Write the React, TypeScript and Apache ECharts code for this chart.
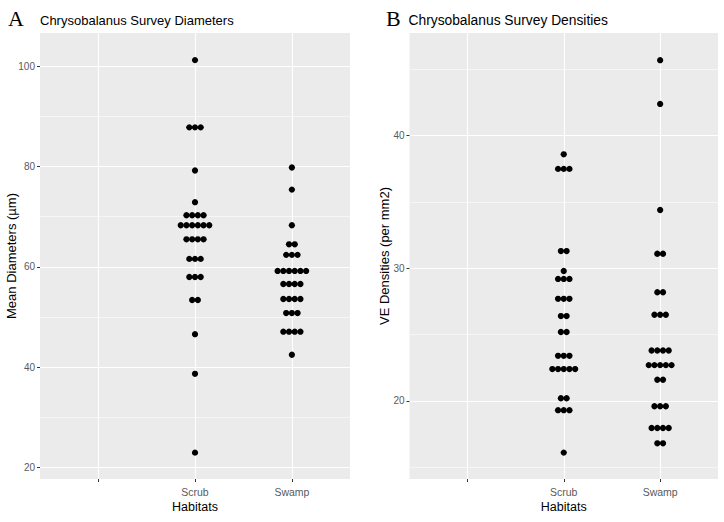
import React, { useEffect, useRef } from "react";
import * as echarts from "echarts";

// ---- data ----
const habitats = ["", "Scrub", "Swamp"];

const diamScrub = [
  101.2, 87.8, 87.8, 87.8, 79.2, 72.9,
  70.3, 70.3, 70.3, 70.3,
  68.3, 68.3, 68.3, 68.3, 68.3, 68.3,
  65.5, 65.5, 65.5, 65.5,
  61.6, 61.6, 61.6,
  58.0, 58.0, 58.0,
  53.4, 53.4,
  46.6, 38.7, 23.0,
];
const diamSwamp = [
  79.8, 75.4, 68.3,
  64.5, 64.5,
  62.4, 62.4, 62.4,
  59.2, 59.2, 59.2, 59.2, 59.2, 59.2,
  56.6, 56.6, 56.6, 56.6,
  53.6, 53.6, 53.6, 53.6,
  50.8, 50.8, 50.8,
  47.1, 47.1, 47.1, 47.1,
  42.5,
];
const densScrub = [
  38.6, 37.5, 37.5, 37.5,
  31.3, 31.3, 29.8,
  29.2, 29.2, 29.2,
  27.7, 27.7, 27.7,
  26.4, 26.4,
  25.2, 25.2,
  23.4, 23.4, 23.4,
  22.4, 22.4, 22.4, 22.4, 22.4,
  20.2, 20.2,
  19.3, 19.3, 19.3,
  16.1,
];
const densSwamp = [
  45.7, 42.4, 34.4,
  31.1, 31.1,
  28.2, 28.2,
  26.5, 26.5, 26.5,
  23.8, 23.8, 23.8, 23.8,
  22.7, 22.7, 22.7, 22.7, 22.7,
  21.6, 21.6,
  19.6, 19.6, 19.6,
  17.96, 17.96, 17.96, 17.96,
  16.8, 16.8,
];

const yTicksA = [20, 40, 60, 80, 100];
const yTicksB = [20, 30, 40];

// ---- layout helpers ----
const SLOTS = 16; // 3 categories, 0.6 expansion each side, 5 slots per unit
const slotOf = (i: number) => 3 + 5 * i;
const catSlots = Array.from({ length: SLOTS + 1 }, (_, k) => {
  const i = habitats.findIndex((_, j) => slotOf(j) === k);
  return i >= 0 ? habitats[i] : " " + k;
});
const isCatSlot = (idx: number) => habitats.some((_, j) => slotOf(j) === idx);

const GRID_A = { left: 40, top: 33, width: 310, height: 446 };
const GRID_B = { left: 409.5, top: 33, width: 308.5, height: 446 };
const DOT_PX = 5.7;

function stack(values: number[], catIndex: number, gridWidth: number) {
  const step = DOT_PX / (gridWidth / SLOTS);
  const groups = new Map<number, number>();
  values.forEach((v) => groups.set(v, (groups.get(v) || 0) + 1));
  const out: number[][] = [];
  groups.forEach((n, v) => {
    for (let k = 0; k < n; k++) {
      out.push([slotOf(catIndex) + (k - (n - 1) / 2) * step, v]);
    }
  });
  return out;
}

const FONT = "'Liberation Sans', Arial, sans-serif";
const TICK_COLOR = "#5a5a5a";

function catAxis(g: number) {
  return {
    type: "category",
    gridIndex: g,
    data: catSlots,
    boundaryGap: false,
    axisLine: { show: false },
    axisTick: {
      show: true,
      length: 3,
      interval: (idx: number) => isCatSlot(idx),
      lineStyle: { color: "#333333", width: 1 },
    },
    axisLabel: {
      interval: (idx: number) => isCatSlot(idx),
      margin: 7,
      color: TICK_COLOR,
      fontSize: 10.5,
      fontFamily: FONT,
    },
    splitLine: {
      show: true,
      interval: (idx: number) => isCatSlot(idx),
      lineStyle: { color: "#ffffff", width: 1.1 },
    },
    name: "Habitats",
    nameLocation: "middle",
    nameGap: 21,
    nameMoveOverlap: false,
    nameTextStyle: { color: "#000", fontSize: 12.5, fontFamily: FONT },
  };
}

function valXAxis(g: number) {
  return { type: "value", gridIndex: g, min: 0, max: SLOTS, show: false };
}

function yAxis(g: number, min: number, max: number, split: number, ticks: number[], name: string, gap: number) {
  return {
    type: "value",
    gridIndex: g,
    min,
    max,
    splitNumber: split,
    axisLine: { show: false },
    axisTick: { show: true, length: 3, customValues: ticks, lineStyle: { color: "#333333" } },
    axisLabel: { customValues: ticks, margin: 5, color: TICK_COLOR, fontSize: 10, fontFamily: FONT },
    splitLine: { show: true, lineStyle: { color: "#ffffff", width: 1.1 } },
    minorTick: { show: false, splitNumber: 2 },
    minorSplitLine: { show: true, lineStyle: { color: "#ffffff", width: 0.55 } },
    name,
    nameLocation: "middle",
    nameGap: gap,
    nameMoveOverlap: false,
    nameTextStyle: { color: "#000", fontSize: 13, fontFamily: FONT },
  };
}

export default function App() {
  const ref = useRef<HTMLDivElement>(null);
  useEffect(() => {
    if (!ref.current) return;
    const chart = echarts.init(ref.current, undefined, { renderer: "svg" });
    const dataA = [
      ...stack(diamScrub, 1, GRID_A.width),
      ...stack(diamSwamp, 2, GRID_A.width),
    ];
    const dataB = [
      ...stack(densScrub, 1, GRID_B.width),
      ...stack(densSwamp, 2, GRID_B.width),
    ];
    const dotStyle = { color: "#000000", opacity: 1 };
    chart.setOption({
      animation: false,
      backgroundColor: "#ffffff",
      grid: [
        { ...GRID_A, show: true, backgroundColor: "#EBEBEB", borderWidth: 0, containLabel: false },
        { ...GRID_B, show: true, backgroundColor: "#EBEBEB", borderWidth: 0, containLabel: false },
      ],
      xAxis: [catAxis(0), catAxis(1), valXAxis(0), valXAxis(1)],
      yAxis: [
        yAxis(0, 17.75, 106.6, 4, yTicksA, "Mean Diameters (µm)", 22),
        yAxis(1, 14.11, 47.75, 3, yTicksB, "VE Densities (per mm2)", 19),
      ],
      series: [
        {
          type: "scatter",
          xAxisIndex: 2,
          yAxisIndex: 0,
          data: dataA,
          symbolSize: 6.3,
          itemStyle: dotStyle,
        },
        {
          type: "scatter",
          xAxisIndex: 3,
          yAxisIndex: 1,
          data: dataB,
          symbolSize: 6.3,
          itemStyle: dotStyle,
        },
      ],
      graphic: [
        { type: "text", x: 8, y: 18, style: { text: "A", fontFamily: "'Liberation Serif', 'Times New Roman', serif", fontSize: 22, fill: "#000", verticalAlign: "middle" } },
        { type: "text", x: 40, y: 20.5, style: { text: "Chrysobalanus Survey Diameters", fontFamily: FONT, fontSize: 13, fill: "#000", verticalAlign: "middle" } },
        { type: "text", x: 386, y: 18, style: { text: "B", fontFamily: "'Liberation Serif', 'Times New Roman', serif", fontSize: 22, fill: "#000", verticalAlign: "middle" } },
        { type: "text", x: 408.5, y: 20.5, style: { text: "Chrysobalanus Survey Densities", fontFamily: FONT, fontSize: 13.8, fill: "#000", verticalAlign: "middle" } },
      ],
    });
    return () => chart.dispose();
  }, []);
  return (
    <div
      ref={ref}
      style={{ position: "fixed", left: 0, top: 0, width: 724, height: 522 }}
    />
  );
}
